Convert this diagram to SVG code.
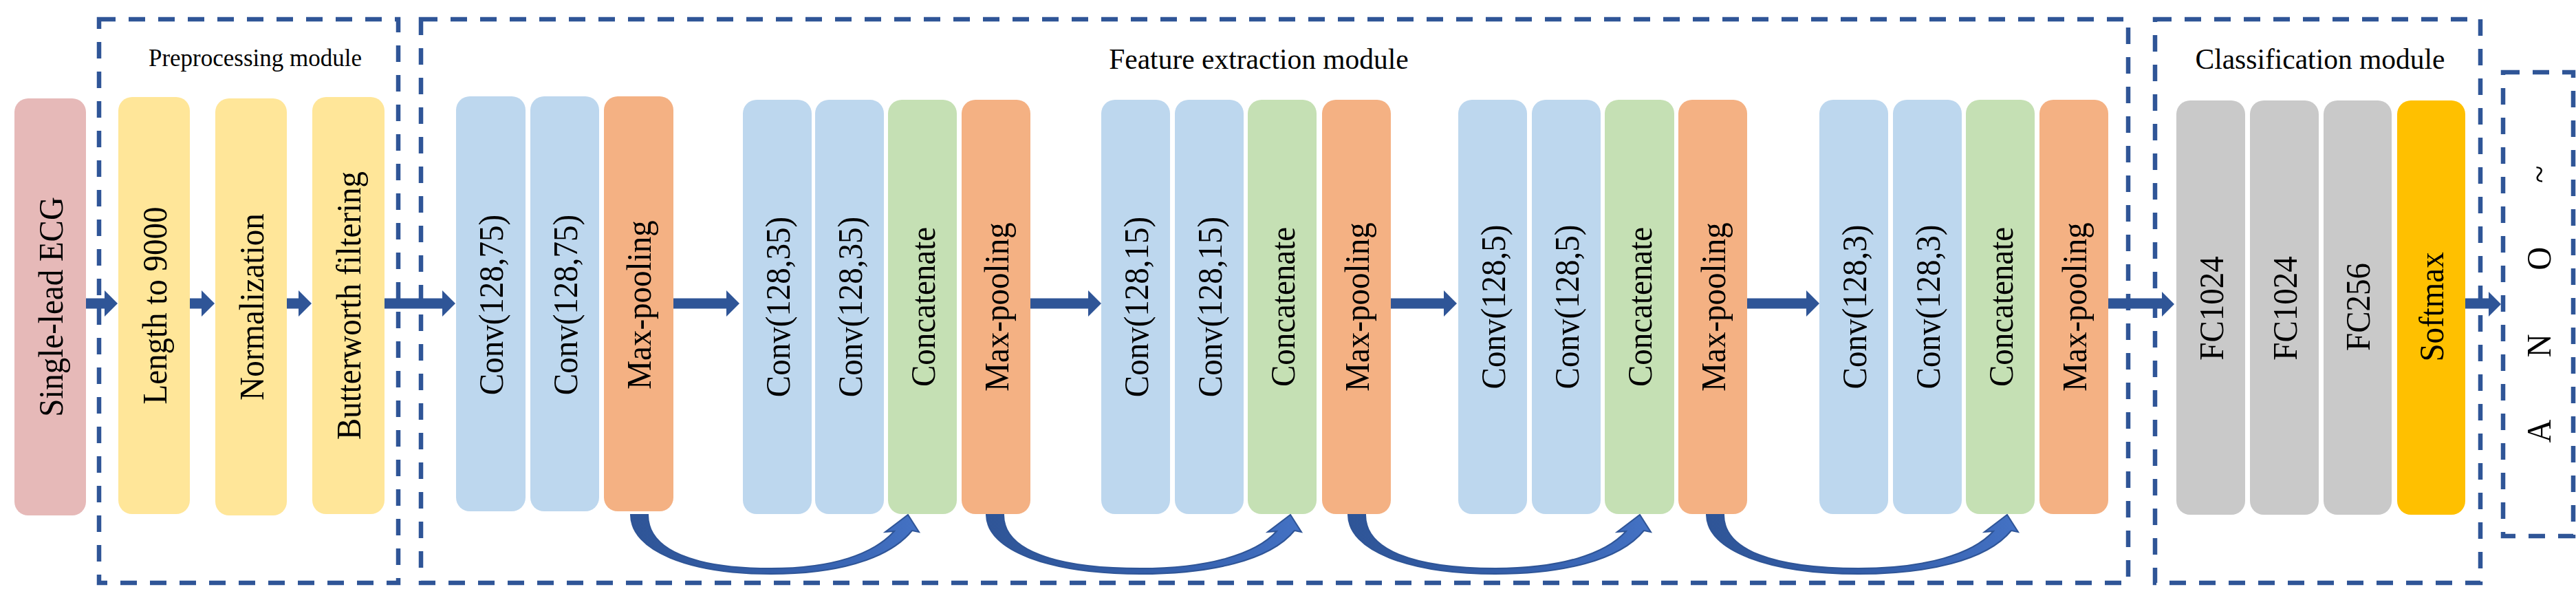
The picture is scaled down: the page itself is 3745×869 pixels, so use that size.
<svg xmlns="http://www.w3.org/2000/svg" width="3745" height="869" viewBox="0 0 3745 869">
<style>
.bg{fill:#ffffff}
.mod{fill:none;stroke:#2F5597;stroke-width:6.5;stroke-dasharray:24 19}
.box{rx:20;ry:20}
.pink{fill:#E6B9B8}.yel{fill:#FFE699}.blue{fill:#BDD7EE}.ora{fill:#F4B183}.grn{fill:#C5E0B4}.gry{fill:#C9C9C9}.gold{fill:#FFC000}
.lbl{font-family:"Liberation Serif","Times New Roman",serif;font-size:47px;fill:#000;text-anchor:middle}
.ttl{font-family:"Liberation Serif","Times New Roman",serif;fill:#000;text-anchor:middle}
.arr{fill:#2F5597}
.curve{fill:url(#cg);stroke:#2F5597;stroke-width:2;stroke-linejoin:miter}
</style>
<defs>
<linearGradient id="cg" x1="0" y1="0" x2="1" y2="0">
<stop offset="0" stop-color="#2F5597"/>
<stop offset="0.6" stop-color="#3560AD"/>
<stop offset="1" stop-color="#4472C4"/>
</linearGradient>
</defs>
<rect class="bg" x="0" y="0" width="3745" height="869"/>

<g id="modules">
<rect class="mod" x="144" y="28" width="435" height="819"/>
<rect class="mod" x="612" y="28" width="2482" height="819"/>
<rect class="mod" x="3133" y="28" width="473" height="819"/>
<rect class="mod" x="3639" y="105" width="102" height="674"/>
<text class="ttl" x="371" y="96" font-size="35">Preprocessing module</text>
<text class="ttl" x="1830" y="100" font-size="41.5">Feature extraction module</text>
<text class="ttl" x="3373" y="100" font-size="41.5">Classification module</text>
</g>

<g id="connectors">
<path class="arr" d="M125 433.5H152V422L171 441L152 460V448.5H125Z"/>
<path class="arr" d="M276 433.5H293V422L312 441L293 460V448.5H276Z"/>
<path class="arr" d="M417 433.5H434V422L453 441L434 460V448.5H417Z"/>
<path class="arr" d="M559 433.5H643V422L662 441L643 460V448.5H559Z"/>
<path class="arr" d="M979 433.5H1056V422L1075 441L1056 460V448.5H979Z"/>
<path class="arr" d="M1498 433.5H1582V422L1601 441L1582 460V448.5H1498Z"/>
<path class="arr" d="M2022 433.5H2099V422L2118 441L2099 460V448.5H2022Z"/>
<path class="arr" d="M2540 433.5H2626V422L2645 441L2626 460V448.5H2540Z"/>
<path class="arr" d="M3065 433.5H3143V424L3161 442L3143 460V448.5H3065Z"/>
<path class="arr" d="M3584 433.5H3618V424L3636 442L3618 460V448.5H3584Z"/>
<path class="curve" d="M917 748L942 748C942 800 1010 826 1121 826C1211 826 1270 805 1300 772L1287 773L1320 748L1336 773L1326 771C1290 815 1211 834 1121 834C1001 834 917 800 917 748Z"/>
<path class="curve" d="M1434 748L1459 748C1459 800 1535 826 1658 826C1757 826 1826 805 1856 772L1843 773L1876 748L1892 773L1882 771C1846 815 1758 834 1658 834C1526 834 1434 800 1434 748Z"/>
<path class="curve" d="M1960 748L1985 748C1985 800 2057 826 2174 826C2269 826 2334 805 2364 772L2351 773L2384 748L2400 773L2390 771C2354 815 2270 834 2174 834C2048 834 1960 800 1960 748Z"/>
<path class="curve" d="M2481 748L2506 748C2506 800 2580 826 2702 826C2800 826 2868 805 2898 772L2885 773L2918 748L2934 773L2924 771C2888 815 2801 834 2702 834C2572 834 2481 800 2481 748Z"/>
</g>

<g id="n-ecg"><rect class="box pink" x="21" y="143" width="104" height="606"/><text class="lbl" transform="translate(91 446) scale(1.08 1) rotate(-90)">Single-lead ECG</text></g>
<g id="n-length"><rect class="box yel" x="172" y="141" width="104" height="606"/><text class="lbl" transform="translate(242 444) scale(1.08 1) rotate(-90)">Length to 9000</text></g>
<g id="n-norm"><rect class="box yel" x="313" y="143" width="104" height="606"/><text class="lbl" transform="translate(383 446) scale(1.08 1) rotate(-90)">Normalization</text></g>
<g id="n-butter"><rect class="box yel" x="454" y="141" width="105" height="606"/><text class="lbl" transform="translate(524 444) scale(1.08 1) rotate(-90)">Butterworth filtering</text></g>

<g id="n-conv75a"><rect class="box blue" x="663" y="140" width="101" height="603"/><text class="lbl" transform="translate(731 443) scale(1.08 1) rotate(-90)">Conv(128,75)</text></g>
<g id="n-conv75b"><rect class="box blue" x="771" y="140" width="100" height="603"/><text class="lbl" transform="translate(839 443) scale(1.08 1) rotate(-90)">Conv(128,75)</text></g>
<g id="n-pool1"><rect class="box ora" x="878" y="140" width="101" height="603"/><text class="lbl" transform="translate(946 443) scale(1.08 1) rotate(-90)">Max-pooling</text></g>

<g id="n-conv35a"><rect class="box blue" x="1080" y="145" width="100" height="602"/><text class="lbl" transform="translate(1148 446) scale(1.08 1) rotate(-90)">Conv(128,35)</text></g>
<g id="n-conv35b"><rect class="box blue" x="1185" y="145" width="100" height="602"/><text class="lbl" transform="translate(1253 446) scale(1.08 1) rotate(-90)">Conv(128,35)</text></g>
<g id="n-concat1"><rect class="box grn" x="1291" y="145" width="100" height="602"/><text class="lbl" transform="translate(1359 446) scale(1.08 1) rotate(-90)">Concatenate</text></g>
<g id="n-pool2"><rect class="box ora" x="1398" y="145" width="100" height="602"/><text class="lbl" transform="translate(1466 446) scale(1.08 1) rotate(-90)">Max-pooling</text></g>

<g id="n-conv15a"><rect class="box blue" x="1601" y="145" width="100" height="602"/><text class="lbl" transform="translate(1669 446) scale(1.08 1) rotate(-90)">Conv(128,15)</text></g>
<g id="n-conv15b"><rect class="box blue" x="1708" y="145" width="100" height="602"/><text class="lbl" transform="translate(1776 446) scale(1.08 1) rotate(-90)">Conv(128,15)</text></g>
<g id="n-concat2"><rect class="box grn" x="1814" y="145" width="100" height="602"/><text class="lbl" transform="translate(1882 446) scale(1.08 1) rotate(-90)">Concatenate</text></g>
<g id="n-pool3"><rect class="box ora" x="1922" y="145" width="100" height="602"/><text class="lbl" transform="translate(1990 446) scale(1.08 1) rotate(-90)">Max-pooling</text></g>

<g id="n-conv5a"><rect class="box blue" x="2120" y="145" width="100" height="602"/><text class="lbl" transform="translate(2188 446) scale(1.08 1) rotate(-90)">Conv(128,5)</text></g>
<g id="n-conv5b"><rect class="box blue" x="2227" y="145" width="100" height="602"/><text class="lbl" transform="translate(2295 446) scale(1.08 1) rotate(-90)">Conv(128,5)</text></g>
<g id="n-concat3"><rect class="box grn" x="2333" y="145" width="101" height="602"/><text class="lbl" transform="translate(2401 446) scale(1.08 1) rotate(-90)">Concatenate</text></g>
<g id="n-pool4"><rect class="box ora" x="2440" y="145" width="100" height="602"/><text class="lbl" transform="translate(2508 446) scale(1.08 1) rotate(-90)">Max-pooling</text></g>

<g id="n-conv3a"><rect class="box blue" x="2645" y="145" width="100" height="602"/><text class="lbl" transform="translate(2713 446) scale(1.08 1) rotate(-90)">Conv(128,3)</text></g>
<g id="n-conv3b"><rect class="box blue" x="2752" y="145" width="100" height="602"/><text class="lbl" transform="translate(2820 446) scale(1.08 1) rotate(-90)">Conv(128,3)</text></g>
<g id="n-concat4"><rect class="box grn" x="2858" y="145" width="100" height="602"/><text class="lbl" transform="translate(2926 446) scale(1.08 1) rotate(-90)">Concatenate</text></g>
<g id="n-pool5"><rect class="box ora" x="2965" y="145" width="100" height="602"/><text class="lbl" transform="translate(3033 446) scale(1.08 1) rotate(-90)">Max-pooling</text></g>

<g id="n-fc1"><rect class="box gry" x="3164" y="146" width="100" height="602"/><text class="lbl" transform="translate(3232 448) scale(1.08 1) rotate(-90)">FC1024</text></g>
<g id="n-fc2"><rect class="box gry" x="3271" y="146" width="100" height="602"/><text class="lbl" transform="translate(3339 448) scale(1.08 1) rotate(-90)">FC1024</text></g>
<g id="n-fc3"><rect class="box gry" x="3378" y="146" width="99" height="602"/><text class="lbl" transform="translate(3445 446) scale(1.08 1) rotate(-90)">FC256</text></g>
<g id="n-softmax"><rect class="box gold" x="3485" y="146" width="99" height="602"/><text class="lbl" transform="translate(3552 446) scale(1.08 1) rotate(-90)">Softmax</text></g>

<g id="n-output"><text class="lbl" style="word-spacing:81px" transform="translate(3708 442) scale(1.08 1) rotate(-90)">A N O ~</text></g>
</svg>
